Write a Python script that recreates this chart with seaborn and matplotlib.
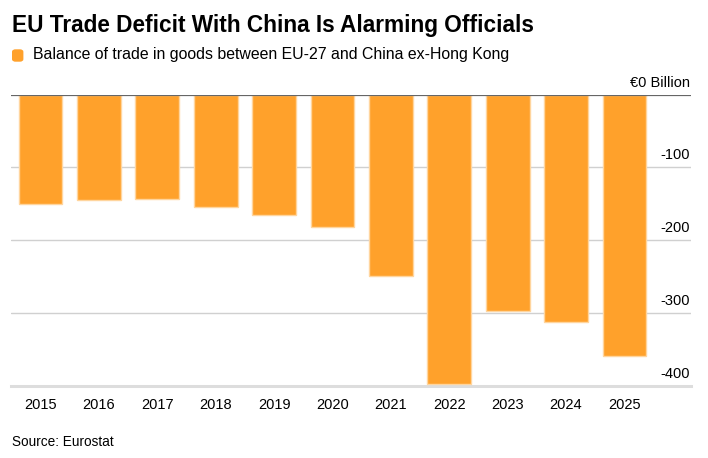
import matplotlib
matplotlib.use("Agg")
import matplotlib.pyplot as plt
import matplotlib.transforms as mtransforms
from matplotlib.patches import FancyBboxPatch
import seaborn as sns
import pandas as pd

# data (EUR billion)
years = ["2015", "2016", "2017", "2018", "2019", "2020",
         "2021", "2022", "2023", "2024", "2025"]
balance = [-150, -145, -144, -154, -165, -182, -249, -398, -297, -312, -359]
y_ticks = [-400, -300, -200, -100, 0]
y_labels = ["-400", "-300", "-200", "-100", "€0 Billion"]

title = "EU Trade Deficit With China Is Alarming Officials"
legend_text = "Balance of trade in goods between EU-27 and China ex-Hong Kong"
source = "Source: Eurostat"

BAR = "#ffa12b"
EDGE = "#ffd59e"
FONT = "Liberation Sans"

sns.set_style("white")
plt.rcParams["font.family"] = [FONT, "DejaVu Sans"]

df = pd.DataFrame({"year": years, "balance": balance})

fig = plt.figure(figsize=(7.08, 4.58), dpi=100)
ax = fig.add_axes([11 / 708, 1 - 385.5 / 458, 680 / 708, (385.5 - 94.7) / 458])

sns.barplot(data=df, x="year", y="balance", color=BAR, saturation=1,
            width=0.75, edgecolor=EDGE, linewidth=1, ax=ax, zorder=3)

ax.set_xlim(-0.505, 11.14)
ax.set_ylim(-400, 0)
ax.set_xlabel("")
ax.set_ylabel("")

# gridlines
ax.set_yticks(y_ticks)
ax.set_yticklabels([])
ax.tick_params(axis="y", length=0)
for t in y_ticks[1:-1]:
    ax.axhline(t, color="#d0d0d0", lw=1, zorder=1)
ax.axhline(0, color="#666666", lw=1.6, zorder=4)

for s in ["top", "left", "right"]:
    ax.spines[s].set_visible(False)
ax.spines["bottom"].set_color("#dddddd")
ax.spines["bottom"].set_linewidth(2.2)

ax.tick_params(axis="x", length=6, width=1.2, color="#555555", pad=3,
               labelsize=10.5, labelcolor="#000000", direction="out")

# y labels inside plot on the right, sitting above the gridlines
trans = mtransforms.blended_transform_factory(ax.transAxes, ax.transData)
off = mtransforms.ScaledTranslation(0, 5 / 100, fig.dpi_scale_trans)
for t, lab in zip(y_ticks, y_labels):
    ax.text(0.9985, t, lab, transform=trans + off, ha="right", va="bottom",
            fontsize=10.5, color="#000000", zorder=5)

# header
fig.text(11.5 / 708, 1 - 25.5 / 458, title, fontsize=16.25, fontweight="bold",
         va="center", ha="left", color="#000000")
fig.patches.append(FancyBboxPatch((12.7 / 708, 1 - 61 / 458), 10 / 708, 11 / 458,
                                  boxstyle="round,pad=0,rounding_size=0.004",
                                  transform=fig.transFigure, color=BAR))
fig.text(33 / 708, 1 - 55 / 458, legend_text, fontsize=11.45,
         va="center", ha="left", color="#000000")
fig.text(11.5 / 708, 1 - 442.5 / 458, source, fontsize=9.8,
         va="center", ha="left", color="#000000")

fig.savefig("out.png", dpi=100)
